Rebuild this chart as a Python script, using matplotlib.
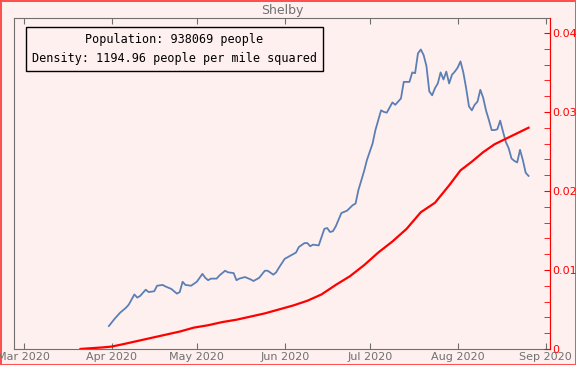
import numpy as np
import pandas as pd
import matplotlib
matplotlib.use("Agg")
import matplotlib.pyplot as plt
import matplotlib.dates as mdates
from matplotlib.ticker import FuncFormatter, MultipleLocator

# cumulative cases as fraction of population (right axis), days since 2020-03-01
red_days = [20, 24, 28, 31, 35, 40, 45, 50, 55, 60, 65, 70, 75, 80, 85, 90,
            95, 100, 105, 110, 115, 120, 125, 130, 135, 140, 145, 150, 154, 158,
            162, 166, 170, 174, 178]
red_vals = [0, 0.0001, 0.0002, 0.0003, 0.0006, 0.0010, 0.0014, 0.0018, 0.0022,
            0.0027, 0.0030, 0.0034, 0.0037, 0.0041, 0.0045, 0.0050, 0.0055, 0.0061,
            0.0069, 0.0081, 0.0092, 0.0106, 0.0122, 0.0136, 0.0152, 0.0173, 0.0185,
            0.0207, 0.0226, 0.0237, 0.0249, 0.0259, 0.0266, 0.0273, 0.0280]

# daily new cases (hidden left axis, same scale)
blue_days = [30, 32, 34, 36, 37, 39, 40, 41, 43, 44, 46, 47, 49, 50, 52, 54, 55, 56,
             57, 59, 61, 63, 64, 65, 66, 68, 69, 71, 72, 74, 75, 76, 78, 80, 81, 83,
             85, 86, 88, 89, 90, 92, 94, 96, 97, 99, 100, 101, 102, 104, 106, 107,
             108, 109, 110, 112, 114, 116, 117, 118, 120, 121, 123, 124, 126, 127,
             128, 130, 131, 133, 134, 136, 137, 138, 139, 140, 141, 142, 143, 144,
             145, 146, 147, 148, 149, 150, 151, 152, 153, 154, 155, 156, 157, 158,
             159, 160, 161, 162, 163, 164, 165, 166, 167, 168, 169, 170, 171, 172,
             173, 174, 175, 176, 177, 178]
blue_vals = [0.0029, 0.0038, 0.0046, 0.0052, 0.0056, 0.0069, 0.0065, 0.0067, 0.0075,
             0.0072, 0.0073, 0.0080, 0.0081, 0.0079, 0.0076, 0.0070, 0.0072, 0.0085,
             0.0081, 0.0080, 0.0085, 0.0095, 0.0090, 0.0087, 0.0089, 0.0089, 0.0093,
             0.0099, 0.0097, 0.0096, 0.0087, 0.0089, 0.0091, 0.0088, 0.0086, 0.0090,
             0.0099, 0.0099, 0.0094, 0.0097, 0.0103, 0.0114, 0.0118, 0.0122, 0.0129,
             0.0134, 0.0134, 0.0130, 0.0132, 0.0131, 0.0152, 0.0153, 0.0148, 0.0149,
             0.0155, 0.0172, 0.0175, 0.0182, 0.0184, 0.0201, 0.0225, 0.0239, 0.0260,
             0.0277, 0.0302, 0.0300, 0.0299, 0.0312, 0.0309, 0.0317, 0.0338, 0.0338,
             0.0350, 0.0349, 0.0374, 0.0379, 0.0372, 0.0358, 0.0326, 0.0321, 0.0330,
             0.0336, 0.0350, 0.0341, 0.0351, 0.0336, 0.0347, 0.0351, 0.0356, 0.0364,
             0.0350, 0.0330, 0.0307, 0.0302, 0.0309, 0.0313, 0.0328, 0.0318, 0.0302,
             0.0290, 0.0277, 0.0277, 0.0278, 0.0289, 0.0275, 0.0262, 0.0254, 0.0241,
             0.0238, 0.0236, 0.0252, 0.0239, 0.0223, 0.0219]

county = "Shelby"
population = 938069
density = 1194.96

start = pd.Timestamp("2020-03-01")
red_dates = start + pd.to_timedelta(red_days, unit="D")
blue_dates = start + pd.to_timedelta(blue_days, unit="D")

bg = "#fff0f0"
gray = "#707070"

fig = plt.figure(figsize=(5.76, 3.65), dpi=100)
fig.patch.set_facecolor(bg)
fig.patch.set_edgecolor("#ff5050")
fig.patch.set_linewidth(2)

ax = fig.add_axes([0.0236, 0.044, 0.9314, 0.907])
ax.set_facecolor(bg)
ax.plot(blue_dates, blue_vals, color="#5b7fb5", lw=1.3)
ax.set_ylim(0, 0.0419)
ax.set_yticks([])
ax.set_xlim(start - pd.Timedelta(days=3.6), start + pd.Timedelta(days=185.6))
ax.xaxis.set_major_locator(mdates.MonthLocator())
ax.xaxis.set_major_formatter(mdates.DateFormatter("%b %Y"))
ax.tick_params(axis="x", direction="in", top=True, colors=gray, labelsize=8,
               length=4, pad=2)
for s in ax.spines.values():
    s.set_color(gray)

ax2 = ax.twinx()
ax2.plot(red_dates, red_vals, color="red", lw=1.6)
ax2.set_ylim(0, 0.0419)
ax2.yaxis.set_major_locator(MultipleLocator(0.01))
ax2.yaxis.set_minor_locator(MultipleLocator(0.002))
ax2.yaxis.set_major_formatter(FuncFormatter(lambda v, p: f"{v:g}"))
ax2.tick_params(axis="y", which="both", direction="in", colors="red", labelsize=8,
                length=4, pad=1.5)
ax2.spines["right"].set_color("red")
for k in ["left", "top", "bottom"]:
    ax2.spines[k].set_visible(False)

ax.set_title(county, color=gray, fontsize=9, pad=3)

ax.text(0.3, 0.905,
        f"Population: {population} people\nDensity: {density} people per mile squared",
        transform=ax.transAxes, ha="center", va="center", fontsize=8.5,
        family="DejaVu Sans Mono", linespacing=1.6,
        bbox=dict(boxstyle="square,pad=0.5", fc=bg, ec="black", lw=1))

fig.savefig("out.png", dpi=100, facecolor=fig.get_facecolor(), edgecolor=fig.get_edgecolor())
